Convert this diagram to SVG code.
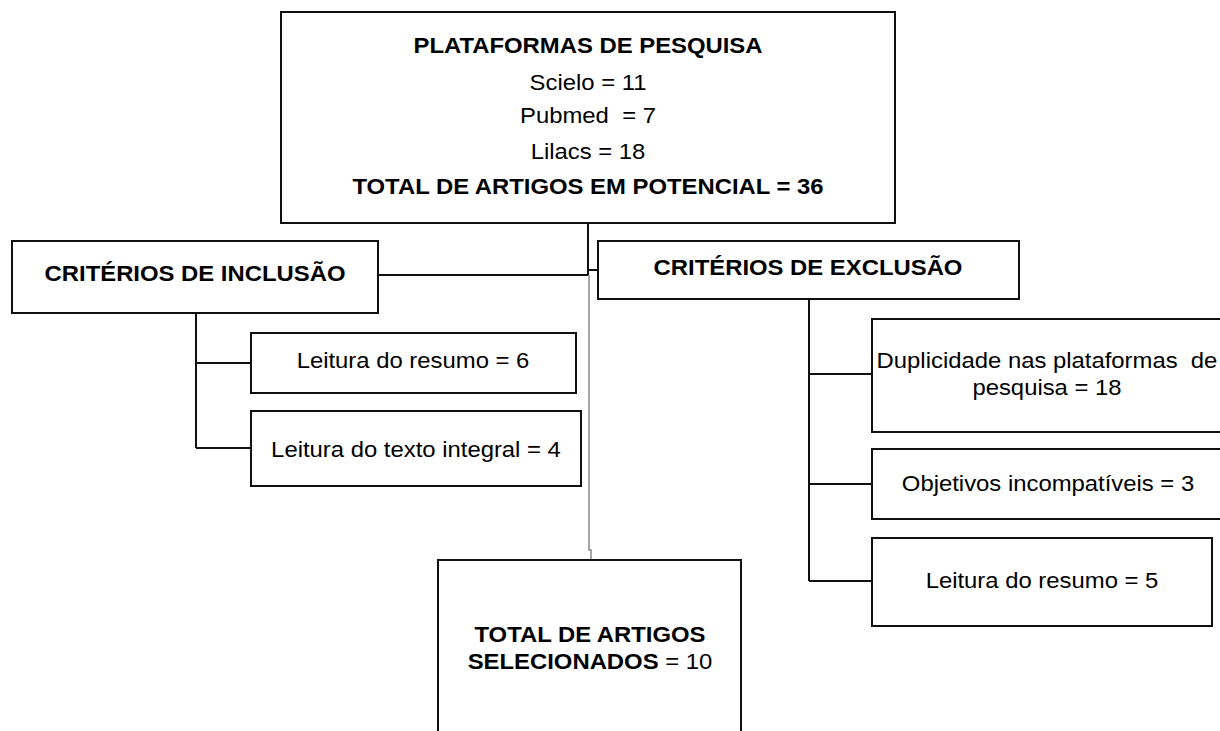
<svg xmlns="http://www.w3.org/2000/svg" width="1220" height="731" viewBox="0 0 1220 731">
<style>
.box{fill:#fff;stroke:#111;stroke-width:2}
.ln{fill:none;stroke:#111;stroke-width:2}
.gl{fill:none;stroke:#8a8a8a;stroke-width:1.5}
text{font-family:"Liberation Sans",Arial,sans-serif;font-size:21.5px;fill:#000;text-anchor:middle}
.b{font-weight:bold}
</style>
<rect width="1220" height="731" fill="#fff"/>
<g id="connectors">
<path class="ln" d="M588,223 V275 M378,275 H588 M588,270 H598"/>
<path class="gl" d="M589,275 V550 H591 V560"/>
<path class="ln" d="M196,313 V448 M196,363 H251 M196,448 H251"/>
<path class="ln" d="M809,299 V581 M809,374 H872 M809,484 H872 M809,581 H872"/>
</g>
<g id="plataformas">
<rect class="box" x="281" y="12" width="614" height="211"/>
<text class="b" transform="translate(588,53) scale(1.11,1)">PLATAFORMAS DE PESQUISA</text>
<text transform="translate(588,90) scale(1.11,1)">Scielo = 11</text>
<text transform="translate(588,123) scale(1.11,1)" xml:space="preserve">Pubmed  = 7</text>
<text transform="translate(588,159) scale(1.11,1)">Lilacs = 18</text>
<text class="b" transform="translate(588,194) scale(1.11,1)">TOTAL DE ARTIGOS EM POTENCIAL = 36</text>
</g>
<g id="inclusao">
<rect class="box" x="12" y="241" width="366" height="72"/>
<text class="b" transform="translate(195,281) scale(1.11,1)">CRITÉRIOS DE INCLUSÃO</text>
</g>
<g id="exclusao">
<rect class="box" x="598" y="241" width="421" height="58"/>
<text class="b" transform="translate(808,275) scale(1.11,1)">CRITÉRIOS DE EXCLUSÃO</text>
</g>
<g id="inc-resumo">
<rect class="box" x="251" y="333" width="325" height="60"/>
<text transform="translate(413,368) scale(1.11,1)">Leitura do resumo = 6</text>
</g>
<g id="inc-texto">
<rect class="box" x="251" y="411" width="330" height="75"/>
<text transform="translate(416,457) scale(1.11,1)">Leitura do texto integral = 4</text>
</g>
<g id="exc-duplicidade">
<rect class="box" x="872" y="319" width="352" height="113"/>
<text transform="translate(1047,368) scale(1.11,1)" xml:space="preserve">Duplicidade nas plataformas  de</text>
<text transform="translate(1047,395) scale(1.11,1)">pesquisa = 18</text>
</g>
<g id="exc-objetivos">
<rect class="box" x="872" y="449" width="352" height="70"/>
<text transform="translate(1048,491) scale(1.11,1)">Objetivos incompatíveis = 3</text>
</g>
<g id="exc-resumo">
<rect class="box" x="872" y="538" width="340" height="88"/>
<text transform="translate(1042,588) scale(1.11,1)">Leitura do resumo = 5</text>
</g>
<g id="selecionados">
<rect class="box" x="438" y="560" width="303" height="190"/>
<text class="b" transform="translate(590,642) scale(1.11,1)">TOTAL DE ARTIGOS</text>
<text transform="translate(590,669) scale(1.11,1)"><tspan class="b">SELECIONADOS</tspan> = 10</text>
</g>
</svg>
